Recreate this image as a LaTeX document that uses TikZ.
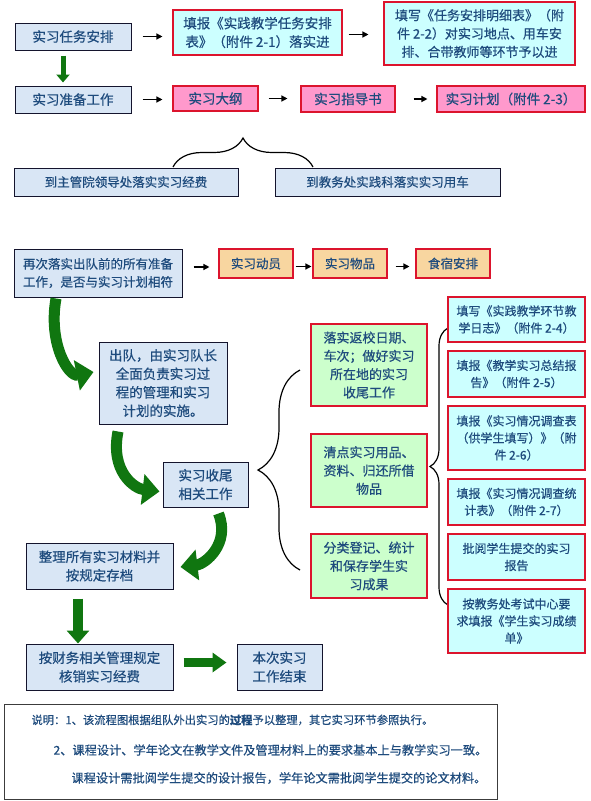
\documentclass[tikz,border=0pt]{standalone}
\usepackage{fontspec}
\setmainfont{Noto Sans CJK SC}[FakeBold=0.5]
\usetikzlibrary{arrows.meta,decorations.pathreplacing}

\definecolor{txtblue}{RGB}{30,75,125}
\definecolor{boxblue}{RGB}{217,230,245}
\definecolor{boxline}{RGB}{20,20,45}
\definecolor{cyanfill}{RGB}{204,255,255}
\definecolor{pinkfill}{RGB}{255,153,204}
\definecolor{greenfill}{RGB}{204,255,204}
\definecolor{wheatfill}{RGB}{248,214,160}
\definecolor{redline}{RGB}{220,20,45}
\definecolor{arrgreen}{RGB}{16,118,16}
\definecolor{noteline}{RGB}{60,60,60}

\begin{document}
\begin{tikzpicture}[x=1pt, y=-1pt,
    wh/.style 2 args={minimum width=#1pt, minimum height=#2pt},
    cell/.style={draw, inner sep=0pt, align=center, text=txtblue,
      font=\fontsize{13.5}{18.5}\selectfont},
    bluebox/.style={cell, draw=boxline, line width=1pt, fill=boxblue},
    cyanbox/.style={cell, draw=redline, line width=1.1pt, fill=cyanfill},
    pinkbox/.style={cell, draw=redline, line width=1.1pt, fill=pinkfill},
    greenbox/.style={cell, draw=redline, line width=1.1pt, fill=greenfill},
    wheatbox/.style={cell, draw=redline, line width=1.1pt, fill=wheatfill},
    midtext/.style={font=\fontsize{13}{18.3}\selectfont},
    smalltext/.style={font=\fontsize{12.5}{18}\selectfont},
    tinytext/.style={font=\fontsize{12}{17}\selectfont},
    arr/.style={line width=1.3pt, -{Triangle[length=6pt,width=6pt]}},
    garr/.style={draw=arrgreen, line width=#1},
    curly/.style={decorate, decoration={brace, amplitude=#1}, line width=1.2pt},
  ]
    \useasboundingbox (0,0) rectangle (590,801);

    % Task and preparation
    \node[bluebox, wh={116}{27}] (task) at (73,36.5) {实习任务安排};
    \node[cyanbox, wh={169}{45}] (fill1) at (257.5,32.5)
      {填报《实践教学任务安排\\表》（附件 2-1）落实进};
    \node[cyanbox, wh={191}{63}, midtext] (fill2) at (479.5,33.5)
      {填写《任务安排明细表》（附\\件 2-2）对实习地点、用车安\\排、合带教师等环节予以进};
    \draw[arr, shorten <=11pt, shorten >=10pt] (task.east) -- (task.east -| fill1.west);
    \draw[arr, shorten <=6pt, shorten >=15pt] ([yshift=-2pt]fill1.east) -- ([yshift=-2pt]fill1.east -| fill2.west);

    \node[bluebox, wh={116}{27}] (prep) at (73,99.5) {实习准备工作};
    \node[pinkbox, wh={85}{25}] (outline) at (215.5,98.5) {实习大纲};
    \node[pinkbox, wh={94}{26}] (guide) at (348,99) {实习指导书};
    \node[pinkbox, wh={148}{26}] (plan) at (511,99) {实习计划（附件 2-3）};
    \draw[garr=5pt, -{Triangle[length=8pt,width=13pt]}]
      ([xshift=-10pt,yshift=-5pt]task.south) -- ([xshift=-10pt,yshift=3pt]prep.north);
    \draw[arr, shorten <=11pt, shorten >=10pt] (prep.east) -- (prep.east -| outline.west);
    \draw[arr, shorten <=10pt, shorten >=13pt] (outline.east) -- (outline.east -| guide.west);
    \draw[arr, shorten <=18pt, shorten >=9pt] (guide.east) -- (guide.east -| plan.west);

    % Funding and car
    \draw[curly=29pt] (173,167) -- (313,167);
    \node[bluebox, wh={224}{28}, smalltext] (money) at (126,182) {到主管院领导处落实实习经费};
    \node[bluebox, wh={225}{28}, smalltext] (car) at (387.5,182) {到教务处实践科落实实习用车};

    % Departure
    \node[bluebox, wh={168}{48}, smalltext] (again) at (98,273)
      {再次落实出队前的所有准备\\工作，是否与实习计划相符};
    \node[wheatbox, wh={74}{29}, smalltext] (mobil) at (256,263.5) {实习动员};
    \node[wheatbox, wh={74}{29}, smalltext] (goods) at (350,263.5) {实习物品};
    \node[wheatbox, wh={74}{29}, smalltext] (lodging) at (453,263.5) {食宿安排};
    \draw[arr, shorten <=11pt, shorten >=9pt] ([yshift=6pt]again.east) -- ([yshift=6pt]again.east -| mobil.west);
    \draw[arr, shorten <=2pt, shorten >=1pt] ([yshift=-3pt]mobil.east) -- ([yshift=-3pt]goods.west);
    \draw[arr, shorten <=8pt, shorten >=6pt] ([yshift=-3pt]goods.east) -- ([yshift=-3pt]lodging.west);

    \node[bluebox, wh={128}{82}] (out) at (163,383)
      {出队，由实习队长\\全面负责实习过\\程的管理和实习\\计划的实施。};
    \node[bluebox, wh={85}{45}] (wrap) at (205.5,484.5) {实习收尾\\相关工作};
    \draw[garr=11pt, -{Triangle[length=17pt,width=30pt]}]
      ([xshift=-42pt,yshift=-1pt]again.south) .. controls +(-8,45) and +(-25,5) .. ([xshift=-5pt,yshift=11pt]out.west);
    \draw[garr=11pt, -{Triangle[length=17pt,width=30pt]}]
      ([xshift=-45pt,yshift=-7pt]out.south) .. controls +(-8,40) and +(-25,-3) .. ([xshift=-3pt,yshift=-7pt]wrap.west);

    % Closing work
    \draw[curly=42pt] (300,570) -- (300,370);
    \node[greenbox, wh={116}{82}, midtext] (green1) at (369,365)
      {落实返校日期、\\车次；做好实习\\所在地的实习\\收尾工作};
    \node[greenbox, wh={116}{73}, midtext] (green2) at (369,470.5)
      {清点实习用品、\\资料、归还所借\\物品};
    \node[greenbox, wh={116}{64}, midtext] (green3) at (369,566)
      {分类登记、统计\\和保存学生实\\习成果};

    \draw[curly=18pt] (448,605) -- (448,328);
    \node[cyanbox, wh={137}{45}, tinytext] (log) at (516.5,319.5) {填写《实践教学环节教\\学日志》（附件 2-4）};
    \node[cyanbox, wh={137}{46}, tinytext] (report) at (516.5,374) {填报《教学实习总结报\\告》（附件 2-5）};
    \node[cyanbox, wh={137}{64}, tinytext] (survey) at (516.5,438) {填报《实习情况调查表\\（供学生填写）》（附\\件 2-6）};
    \node[cyanbox, wh={137}{46}, tinytext] (stats) at (516.5,502) {填报《实习情况调查统\\计表》（附件 2-7）};
    \node[cyanbox, wh={137}{46}, tinytext] (review) at (516.5,557) {批阅学生提交的实习\\报告};
    \node[cyanbox, wh={137}{64}, tinytext] (grades) at (516.5,621) {按教务处考试中心要\\求填报《学生实习成绩\\单》};

    % Archive and finish
    \node[bluebox, wh={147}{46}] (sort) at (99.5,566) {整理所有实习材料并\\按规定存档};
    \node[bluebox, wh={147}{46}] (money2) at (99.5,667) {按财务相关管理规定\\核销实习经费};
    \node[bluebox, wh={85}{46}] (finish) at (279.5,667) {本次实习\\工作结束};
    \draw[garr=11pt, -{Triangle[length=17pt,width=30pt]}]
      ([xshift=13pt,yshift=-6pt]wrap.south) .. controls +(12,30) and +(25,-3) .. ([xshift=7pt,yshift=-1pt]sort.east);
    \draw[garr=10pt, -{Triangle[length=13pt,width=22pt]}]
      ([xshift=-21.5pt,yshift=-9pt]sort.south) -- ([xshift=-21.5pt]money2.north);
    \draw[garr=9pt, -{Triangle[length=14pt,width=19pt]}]
      ([xshift=10pt,yshift=4.5pt]money2.east) -- ([xshift=-10pt,yshift=4.5pt]finish.west);

    % Notes
    \node[draw=noteline, line width=0.8pt, wh={493}{95}] (note) at (250.5,751.5) {};
    \node[anchor=west, text=txtblue, font=\fontsize{11.3}{14}\selectfont] (note1) at (28,720)
      {说明：1、该流程图根据组队外出实习的\textbf{过程}予以整理，其它实习环节参照执行。};
    \node[anchor=west, text=txtblue, font=\fontsize{12.2}{14}\selectfont] (note2) at (50,750)
      {2、课程设计、学年论文在教学文件及管理材料上的要求基本上与教学实习一致。};
    \node[anchor=west, text=txtblue, font=\fontsize{12.2}{14}\selectfont] (note3) at (68,778)
      {课程设计需批阅学生提交的设计报告，学年论文需批阅学生提交的论文材料。};
\end{tikzpicture}
\end{document}
